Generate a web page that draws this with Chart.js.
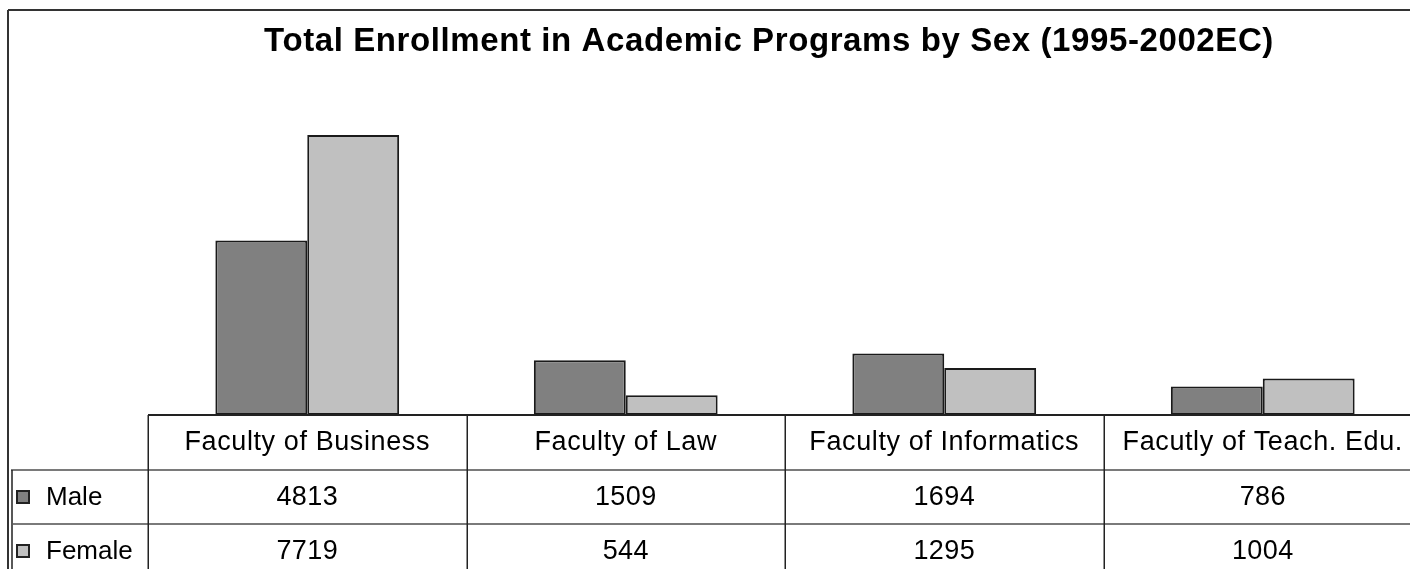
<!DOCTYPE html>
<html>
<head>
<meta charset="utf-8">
<script src="https://cdn.jsdelivr.net/npm/chart.js@4.4.0/dist/chart.umd.min.js"></script>
<style>
  html, body { margin: 0; padding: 0; background: #fff; overflow: hidden; }
  #wrap { position: relative; width: 1540px; height: 569px; }
</style>
</head>
<body>
<div id="wrap"><canvas id="c" width="1540" height="569"></canvas></div>
<script>
const chartTitle = 'Total Enrollment in Academic Programs by Sex (1995-2002EC)';
const categories = ['Faculty of Business', 'Faculty of Law', 'Faculty of Informatics', 'Facutly of Teach. Edu.'];
const seriesNames = ['Male', 'Female'];
const maleValues = [4813, 1509, 1694, 786];
const femaleValues = [7719, 544, 1295, 1004];
const seriesColors = ['#808080', '#C0C0C0'];

const FONT = '"Liberation Sans", Arial, sans-serif';
Chart.defaults.font.family = FONT;

const spacingPlugin = {
  id: 'spacing',
  beforeDraw(chart) {
    if ('letterSpacing' in chart.ctx) chart.ctx.letterSpacing = '0.6px';
  }
};

const tablePlugin = {
  id: 'dataTable',
  afterDraw(chart) {
    const ctx = chart.ctx;
    const a = chart.chartArea;
    const xs = chart.scales.x;
    const W = chart.width, H = chart.height;
    const n = categories.length;
    const catW = (a.right - a.left) / n;
    const headerH = 55, rowH = 54;
    const row0 = a.bottom + headerH;
    ctx.save();
    // outer frame
    ctx.strokeStyle = '#333';
    ctx.lineWidth = 2;
    ctx.beginPath();
    ctx.moveTo(8, 10); ctx.lineTo(W, 10);
    ctx.moveTo(8, 10); ctx.lineTo(8, H);
    ctx.stroke();
    // row separators (gray)
    ctx.strokeStyle = '#7a7a7a';
    ctx.lineWidth = 2;
    ctx.beginPath();
    ctx.moveTo(11, row0); ctx.lineTo(a.right, row0);
    ctx.moveTo(13, row0 + rowH); ctx.lineTo(a.right, row0 + rowH);
    ctx.stroke();
    // baseline
    ctx.strokeStyle = '#222';
    ctx.lineWidth = 2;
    ctx.beginPath();
    ctx.moveTo(a.left, a.bottom); ctx.lineTo(a.right, a.bottom);
    ctx.stroke();
    // vertical column lines
    ctx.lineWidth = 1.5;
    ctx.beginPath();
    for (let i = 0; i <= n; i++) {
      const x = Math.round(a.left + i * catW) + 0.25;
      ctx.moveTo(x, a.bottom); ctx.lineTo(x, H);
    }
    ctx.moveTo(12, row0); ctx.lineTo(12, H);
    ctx.stroke();
    // rows
    const rows = [maleValues, femaleValues];
    ctx.textBaseline = 'middle';
    rows.forEach((vals, r) => {
      const cy = row0 + r * rowH + rowH / 2;
      // legend box
      ctx.fillStyle = seriesColors[r];
      ctx.fillRect(17, cy - 6, 12, 12);
      ctx.strokeStyle = '#222';
      ctx.lineWidth = 2;
      ctx.strokeRect(17, cy - 6, 12, 12);
      ctx.fillStyle = '#000';
      ctx.textAlign = 'left';
      if ('letterSpacing' in ctx) ctx.letterSpacing = '0px';
      ctx.font = '26px ' + FONT;
      ctx.fillText(seriesNames[r], 46, cy + 1);
      ctx.textAlign = 'center';
      if ('letterSpacing' in ctx) ctx.letterSpacing = '0.4px';
      ctx.font = '27px ' + FONT;
      vals.forEach((v, i) => {
        ctx.fillText(String(v), xs.getPixelForValue(i), cy + 1);
      });
    });
    ctx.restore();
  }
};

new Chart(document.getElementById('c'), {
  type: 'bar',
  data: {
    labels: categories,
    datasets: [
      { label: seriesNames[0], data: maleValues, backgroundColor: seriesColors[0], borderColor: '#1a1a1a', borderWidth: 2, borderSkipped: false, categoryPercentage: 0.577, barPercentage: 1.0, yAxisID: 'y' },
      { label: seriesNames[1], data: femaleValues, backgroundColor: seriesColors[1], borderColor: '#1a1a1a', borderWidth: 2, borderSkipped: false, categoryPercentage: 0.577, barPercentage: 1.0, yAxisID: 'y' }
    ]
  },
  options: {
    responsive: false,
    animation: false,
    layout: { padding: { left: 8, right: 10, top: 0, bottom: 0 } },
    plugins: {
      legend: { display: false },
      tooltip: { enabled: false },
      title: {
        display: true,
        text: chartTitle,
        color: '#000',
        font: { size: 33, weight: 'bold', family: FONT },
        padding: { top: 22, bottom: 27 }
      }
    },
    scales: {
      x: {
        grid: { display: false, drawTicks: false, tickLength: 0 },
        border: { display: false },
        ticks: { padding: 11, color: '#000', font: { size: 27 }, maxRotation: 0, autoSkip: false },
        afterFit(s) { s.height = 569 - 415; }
      },
      y: {
        min: 0, max: 9000,
        grid: { display: false, drawTicks: false },
        border: { display: false },
        ticks: { display: false },
        afterFit(s) { s.width = 140; }
      },
      y2: {
        type: 'linear',
        position: 'right',
        min: 0, max: 9000,
        grid: { display: false, drawTicks: false },
        border: { display: false },
        ticks: { display: false },
        afterFit(s) { s.width = 108; }
      }
    }
  },
  plugins: [spacingPlugin, tablePlugin]
});
</script>
</body>
</html>
